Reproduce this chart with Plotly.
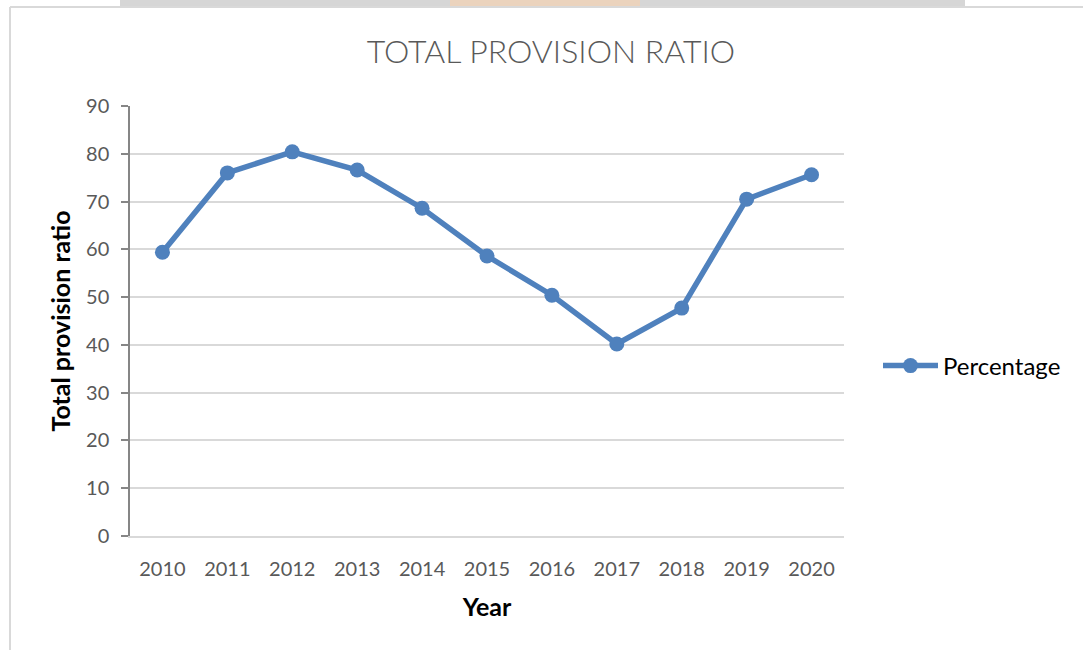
import plotly.graph_objects as go

years = ["2010", "2011", "2012", "2013", "2014", "2015", "2016", "2017", "2018", "2019", "2020"]
percentage = [59.4, 76.0, 80.4, 76.6, 68.6, 58.6, 50.4, 40.2, 47.7, 70.5, 75.6]
y_ticks = [0, 10, 20, 30, 40, 50, 60, 70, 80, 90]

W, H = 1083, 650
L, R, T, B = 130, 239, 106, 114

fig = go.Figure()
fig.add_trace(go.Scatter(
    x=years, y=percentage, mode="lines+markers", name="Percentage",
    line=dict(color="#4F81BD", width=5.5),
    marker=dict(color="#4F81BD", size=15),
))

def px(x):
    return (x - L) / (W - L - R)

def py(y):
    return 1 - (y - T) / (H - T - B)

fig.update_layout(
    width=W, height=H,
    margin=dict(l=L, r=R, t=T, b=B),
    paper_bgcolor="white", plot_bgcolor="white",
    font=dict(family="Lato", color="#595959"),
    title=dict(text="TOTAL PROVISION RATIO", x=551 / W, xanchor="center",
               y=1 - 52 / H, yanchor="middle", xref="container", yref="container",
               font=dict(family="Lato Light, Lato", size=32, color="#595959")),
    showlegend=True,
    legend=dict(x=px(878), xanchor="left", y=py(366), yanchor="middle",
                font=dict(family="Lato", size=24, color="#000000"),
                bgcolor="rgba(0,0,0,0)", itemwidth=55),
    xaxis=dict(type="category", range=[-0.5, 10.5], showgrid=False,
               showline=True, linecolor="#D9D9D9", linewidth=1.5,
               ticks="", ticklabelstandoff=14, tickfont=dict(size=20, color="#595959"),
               title=dict(text="<b>Year</b>", font=dict(size=25, color="#000000"), standoff=20)),
    yaxis=dict(range=[0, 90], tickvals=y_ticks, showgrid=True, gridcolor="#D9D9D9", gridwidth=1.5,
               showline=True, linecolor="#868686", linewidth=1.5,
               ticks="outside", ticklen=7, tickcolor="#868686", tickwidth=1.5,
               ticklabelstandoff=8,
               tickfont=dict(size=20, color="#595959"), zeroline=False,
               title=dict(text="<b>Total provision ratio</b>", font=dict(size=25, color="#000000"), standoff=8)),
)

# outer frame and faint header band
fig.add_shape(type="rect", xref="paper", yref="paper",
              x0=px(120), x1=px(965), y0=py(0), y1=py(7),
              line=dict(width=0), fillcolor="#D6D6D6", layer="below")
fig.add_shape(type="rect", xref="paper", yref="paper",
              x0=px(450), x1=px(640), y0=py(0), y1=py(7),
              line=dict(width=0), fillcolor="#EBD3BD", layer="below")
fig.add_shape(type="line", xref="paper", yref="paper",
              x0=px(10), x1=px(1083), y0=py(7), y1=py(7),
              line=dict(color="#D9D9D9", width=2), layer="below")
fig.add_shape(type="line", xref="paper", yref="paper",
              x0=px(10), x1=px(10), y0=py(7), y1=py(650),
              line=dict(color="#D9D9D9", width=2), layer="below")

fig.write_html("out.html")
